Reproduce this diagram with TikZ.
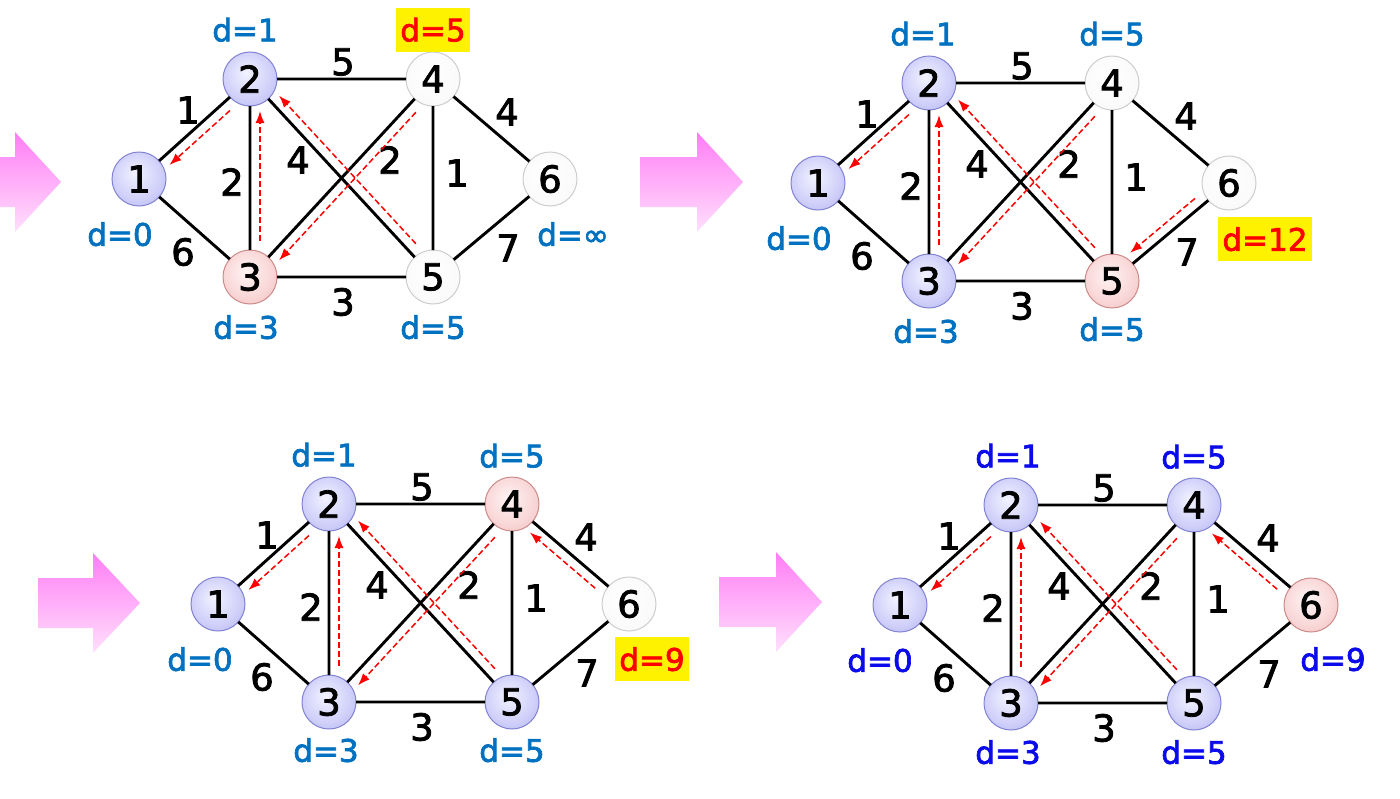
\documentclass[tikz,border=0pt]{standalone}
\usepackage{fontspec}
\setmainfont{DejaVu Sans}[FakeBold=2.2]
\usetikzlibrary{arrows.meta,positioning,calc}
\definecolor{lblue}{RGB}{0,112,192}
\definecolor{dblue}{RGB}{10,10,235}
\definecolor{bvin}{RGB}{242,242,255}
\definecolor{bvmid}{RGB}{208,208,250}
\definecolor{bvout}{RGB}{168,168,236}
\definecolor{bvline}{RGB}{130,130,210}
\definecolor{rvin}{RGB}{255,243,243}
\definecolor{rvmid}{RGB}{249,215,215}
\definecolor{rvout}{RGB}{236,176,176}
\definecolor{rvline}{RGB}{205,138,138}
\definecolor{wvmid}{RGB}{250,250,250}
\definecolor{wvout}{RGB}{226,226,226}
\definecolor{wvline}{RGB}{205,205,205}
\definecolor{pktop}{RGB}{255,125,245}
\definecolor{pkbot}{RGB}{255,224,252}
\pgfdeclareradialshading{bvball}{\pgfpoint{-4bp}{6bp}}{color(0bp)=(bvin); color(22bp)=(bvmid); color(44bp)=(bvout); color(50bp)=(bvout)}
\pgfdeclareradialshading{rvball}{\pgfpoint{-4bp}{6bp}}{color(0bp)=(rvin); color(22bp)=(rvmid); color(44bp)=(rvout); color(50bp)=(rvout)}
\pgfdeclareradialshading{wvball}{\pgfpoint{-4bp}{6bp}}{color(0bp)=(white); color(26bp)=(wvmid); color(44bp)=(wvout); color(50bp)=(wvout)}

\begin{document}
\begin{tikzpicture}[x=1pt, y=-1pt, >={Latex[length=12pt,width=9pt]},
  vtx/.style={circle, minimum size=54pt, inner sep=0pt, outer sep=0pt, line width=1pt, font=\fontsize{37}{37}\selectfont},
  bv/.style={vtx, draw=bvline, shading=bvball},
  rv/.style={vtx, draw=rvline, shading=rvball},
  wv/.style={vtx, draw=wvline, shading=wvball},
  link/.style={line width=2.9pt},
  wt/.style={inner sep=0pt, font=\fontsize{37}{37}\selectfont},
  lbl/.style={inner sep=0pt, text=lblue, font=\fontsize{31}{31}\selectfont},
  lblb/.style={lbl, text=dblue},
  hl/.style={fill=yellow, text=red, inner xsep=4pt, inner ysep=10pt, font=\fontsize{31}{31}\selectfont},
  pred/.style={red, line width=1.5pt, dash pattern=on 6pt off 3pt, ->, shorten <=36pt, shorten >=32pt},
  pk/.style={top color=pktop, bottom color=pkbot}]
\useasboundingbox (0,0) rectangle (1400,798);

\shade[pk] (0,157) -- (15,157) -- (15,132) -- (61,182) -- (15,232) -- (15,207) -- (0,207) -- cycle;
\begin{scope}[shift={(139,179)}]
\node[bv] (a1) at (0,0) {1}; \node[bv] (a2) at (111,-100) {2}; \node[rv] (a3) at (111,98) {3};
\node[wv] (a4) at (294,-100) {4}; \node[wv] (a5) at (294,98) {5}; \node[wv] (a6) at (411,0) {6};
\node[wt] (a12) at (49,-69) {1}; \node[wt] (a13) at (44,73) {6}; \node[wt] (a23) at (93,3) {2};
\node[wt] (a24) at (204,-117) {5}; \node[wt] (a25) at (159,-19) {4}; \node[wt] (a34) at (251,-19) {2};
\node[wt] (a35) at (204,123) {3}; \node[wt] (a45) at (318,-6) {1}; \node[wt] (a46) at (368,-67) {4};
\node[wt] (a56) at (369,69) {7};
\end{scope}
\draw[link] (a1) -- (a2) (a1) -- (a3) (a2) -- (a3) (a2) -- (a4) (a2) -- (a5)
  (a3) -- (a4) (a3) -- (a5) (a4) -- (a5) (a4) -- (a6) (a5) -- (a6);
\node[lbl, below=16pt of a1, xshift=-19pt] (la1) {d=0};
\node[lbl, above=10pt of a2, xshift=-5pt] (la2) {d=1};
\node[lbl, below=11pt of a3, xshift=-4pt] (la3) {d=3};
\node[hl, above=0pt of a4] (la4) {d=5};
\node[lbl, below=11pt of a5] (la5) {d=5};
\node[lbl, below=16pt of a6, xshift=23pt] (la6) {d=∞};
\draw[pred] ($(a2)!10pt!90:(a1)$) -- ($(a1)!10pt!-90:(a2)$);
\draw[pred] ($(a3)!10pt!-90:(a2)$) -- ($(a2)!10pt!90:(a3)$);
\draw[pred] ($(a5)!10pt!-90:(a2)$) -- ($(a2)!10pt!90:(a5)$);
\draw[pred] ($(a4)!10pt!90:(a3)$) -- ($(a3)!10pt!-90:(a4)$);

\shade[pk] (640,157) -- (697,157) -- (697,132) -- (743,182) -- (697,232) -- (697,207) -- (640,207) -- cycle;
\begin{scope}[shift={(818,183)}]
\node[bv] (b1) at (0,0) {1}; \node[bv] (b2) at (111,-100) {2}; \node[bv] (b3) at (111,98) {3};
\node[wv] (b4) at (294,-100) {4}; \node[rv] (b5) at (294,98) {5}; \node[wv] (b6) at (411,0) {6};
\node[wt] (b12) at (49,-69) {1}; \node[wt] (b13) at (44,73) {6}; \node[wt] (b23) at (93,3) {2};
\node[wt] (b24) at (204,-117) {5}; \node[wt] (b25) at (159,-19) {4}; \node[wt] (b34) at (251,-19) {2};
\node[wt] (b35) at (204,123) {3}; \node[wt] (b45) at (318,-6) {1}; \node[wt] (b46) at (368,-67) {4};
\node[wt] (b56) at (369,69) {7};
\end{scope}
\draw[link] (b1) -- (b2) (b1) -- (b3) (b2) -- (b3) (b2) -- (b4) (b2) -- (b5)
  (b3) -- (b4) (b3) -- (b5) (b4) -- (b5) (b4) -- (b6) (b5) -- (b6);
\node[lbl, below=16pt of b1, xshift=-19pt] (lb1) {d=0};
\node[lbl, above=10pt of b2, xshift=-6pt] (lb2) {d=1};
\node[lbl, below=11pt of b3, xshift=-3pt] (lb3) {d=3};
\node[lbl, above=10pt of b4] (lb4) {d=5};
\node[lbl, below=9pt of b5] (lb5) {d=5};
\node[hl, below=7pt of b6, xshift=36pt] (lb6) {d=12};
\draw[pred] ($(b2)!10pt!90:(b1)$) -- ($(b1)!10pt!-90:(b2)$);
\draw[pred] ($(b3)!10pt!-90:(b2)$) -- ($(b2)!10pt!90:(b3)$);
\draw[pred] ($(b5)!10pt!-90:(b2)$) -- ($(b2)!10pt!90:(b5)$);
\draw[pred] ($(b4)!10pt!90:(b3)$) -- ($(b3)!10pt!-90:(b4)$);
\draw[pred] ($(b6)!10pt!-90:(b5)$) -- ($(b5)!10pt!90:(b6)$);

\shade[pk] (38,578) -- (93,578) -- (93,553) -- (140,603) -- (93,653) -- (93,628) -- (38,628) -- cycle;
\begin{scope}[shift={(218,604)}]
\node[bv] (c1) at (0,0) {1}; \node[bv] (c2) at (111,-100) {2}; \node[bv] (c3) at (111,98) {3};
\node[rv] (c4) at (294,-100) {4}; \node[bv] (c5) at (294,98) {5}; \node[wv] (c6) at (411,0) {6};
\node[wt] (c12) at (49,-69) {1}; \node[wt] (c13) at (44,73) {6}; \node[wt] (c23) at (93,3) {2};
\node[wt] (c24) at (204,-117) {5}; \node[wt] (c25) at (159,-19) {4}; \node[wt] (c34) at (251,-19) {2};
\node[wt] (c35) at (204,123) {3}; \node[wt] (c45) at (318,-6) {1}; \node[wt] (c46) at (368,-67) {4};
\node[wt] (c56) at (369,69) {7};
\end{scope}
\draw[link] (c1) -- (c2) (c1) -- (c3) (c2) -- (c3) (c2) -- (c4) (c2) -- (c5)
  (c3) -- (c4) (c3) -- (c5) (c4) -- (c5) (c4) -- (c6) (c5) -- (c6);
\node[lbl, below=16pt of c1, xshift=-18pt] (lc1) {d=0};
\node[lbl, above=10pt of c2, xshift=-5pt] (lc2) {d=1};
\node[lbl, below=9pt of c3, xshift=-3pt] (lc3) {d=3};
\node[lbl, above=9pt of c4] (lc4) {d=5};
\node[lbl, below=9pt of c5] (lc5) {d=5};
\node[hl, below=6pt of c6, xshift=23pt] (lc6) {d=9};
\draw[pred] ($(c2)!10pt!90:(c1)$) -- ($(c1)!10pt!-90:(c2)$);
\draw[pred] ($(c3)!10pt!-90:(c2)$) -- ($(c2)!10pt!90:(c3)$);
\draw[pred] ($(c5)!10pt!-90:(c2)$) -- ($(c2)!10pt!90:(c5)$);
\draw[pred] ($(c4)!10pt!90:(c3)$) -- ($(c3)!10pt!-90:(c4)$);
\draw[pred] ($(c6)!10pt!90:(c4)$) -- ($(c4)!10pt!-90:(c6)$);

\shade[pk] (719,577) -- (776,577) -- (776,552) -- (822,602) -- (776,652) -- (776,627) -- (719,627) -- cycle;
\begin{scope}[shift={(900,605)}]
\node[bv] (d1) at (0,0) {1}; \node[bv] (d2) at (111,-100) {2}; \node[bv] (d3) at (111,98) {3};
\node[bv] (d4) at (294,-100) {4}; \node[bv] (d5) at (294,98) {5}; \node[rv] (d6) at (411,0) {6};
\node[wt] (d12) at (49,-69) {1}; \node[wt] (d13) at (44,73) {6}; \node[wt] (d23) at (93,3) {2};
\node[wt] (d24) at (204,-117) {5}; \node[wt] (d25) at (159,-19) {4}; \node[wt] (d34) at (251,-19) {2};
\node[wt] (d35) at (204,123) {3}; \node[wt] (d45) at (318,-6) {1}; \node[wt] (d46) at (368,-67) {4};
\node[wt] (d56) at (369,69) {7};
\end{scope}
\draw[link] (d1) -- (d2) (d1) -- (d3) (d2) -- (d3) (d2) -- (d4) (d2) -- (d5)
  (d3) -- (d4) (d3) -- (d5) (d4) -- (d5) (d4) -- (d6) (d5) -- (d6);
\node[lblb, below=16pt of d1, xshift=-20pt] (ld1) {d=0};
\node[lblb, above=10pt of d2, xshift=-3pt] (ld2) {d=1};
\node[lblb, below=10pt of d3, xshift=-3pt] (ld3) {d=3};
\node[lblb, above=9pt of d4] (ld4) {d=5};
\node[lblb, below=10pt of d5] (ld5) {d=5};
\node[lblb, below=15pt of d6, xshift=22pt] (ld6) {d=9};
\draw[pred] ($(d2)!10pt!90:(d1)$) -- ($(d1)!10pt!-90:(d2)$);
\draw[pred] ($(d3)!10pt!-90:(d2)$) -- ($(d2)!10pt!90:(d3)$);
\draw[pred] ($(d5)!10pt!-90:(d2)$) -- ($(d2)!10pt!90:(d5)$);
\draw[pred] ($(d4)!10pt!90:(d3)$) -- ($(d3)!10pt!-90:(d4)$);
\draw[pred] ($(d6)!10pt!90:(d4)$) -- ($(d4)!10pt!-90:(d6)$);
\end{tikzpicture}
\end{document}
